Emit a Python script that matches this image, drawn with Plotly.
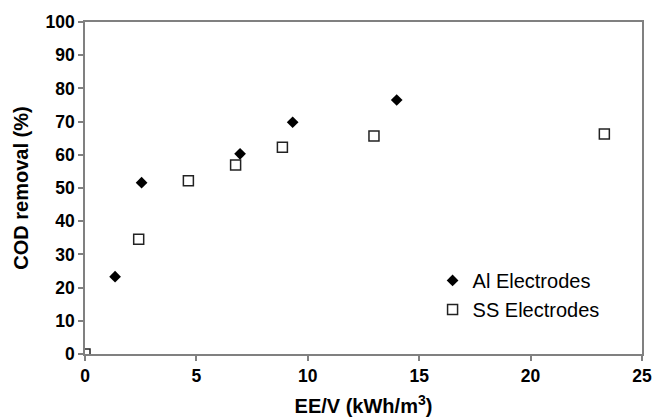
import plotly.graph_objects as go

al_x = [1.35, 2.54, 6.96, 9.32, 13.99]
al_y = [23.3, 51.6, 60.3, 69.8, 76.5]
ss_x = [0.0, 2.41, 4.64, 6.76, 8.86, 12.97, 23.31]
ss_y = [0.0, 34.6, 52.2, 56.9, 62.3, 65.7, 66.3]

FONT = "Liberation Sans, Arial, sans-serif"

fig = go.Figure()
fig.add_trace(go.Scatter(x=al_x, y=al_y, mode="markers", name="Al Electrodes",
                         marker=dict(symbol="diamond", size=9, color="black",
                                     line=dict(width=0))))
fig.add_trace(go.Scatter(x=ss_x, y=ss_y, mode="markers", name="SS Electrodes",
                         marker=dict(symbol="square-open", size=10, color="#222",
                                     line=dict(width=1.5, color="#222"))))

axis_common = dict(showgrid=False, zeroline=False, showline=True, linecolor="#808080",
                   linewidth=1.5, mirror=True, ticks="outside", ticklen=5,
                   tickcolor="#808080", tickwidth=1.5, automargin=False,
                   tickfont=dict(family=FONT, size=17.5, color="black", weight="bold"))

fig.update_layout(
    width=653, height=417,
    margin=dict(l=85, r=11, t=22, b=63),
    paper_bgcolor="white", plot_bgcolor="white",
    xaxis=dict(range=[0, 25], tickvals=[0, 5, 10, 15, 20, 25],
               title=dict(text="EE/V (kWh/m<sup>3</sup>)", standoff=18,
                          font=dict(family=FONT, size=20, color="black", weight="bold")),
               **axis_common),
    yaxis=dict(range=[0, 100], tickvals=list(range(0, 101, 10)),
               title=dict(text="COD removal (%)", standoff=12,
                          font=dict(family=FONT, size=20, color="black", weight="bold")),
               **axis_common),
    legend=dict(x=0.624, y=0.178, xanchor="left", yanchor="middle",
                font=dict(family=FONT, size=20, color="black"),
                bgcolor="rgba(0,0,0,0)", itemwidth=30, tracegroupgap=0),
    showlegend=True,
)

fig.write_html("out.html")
